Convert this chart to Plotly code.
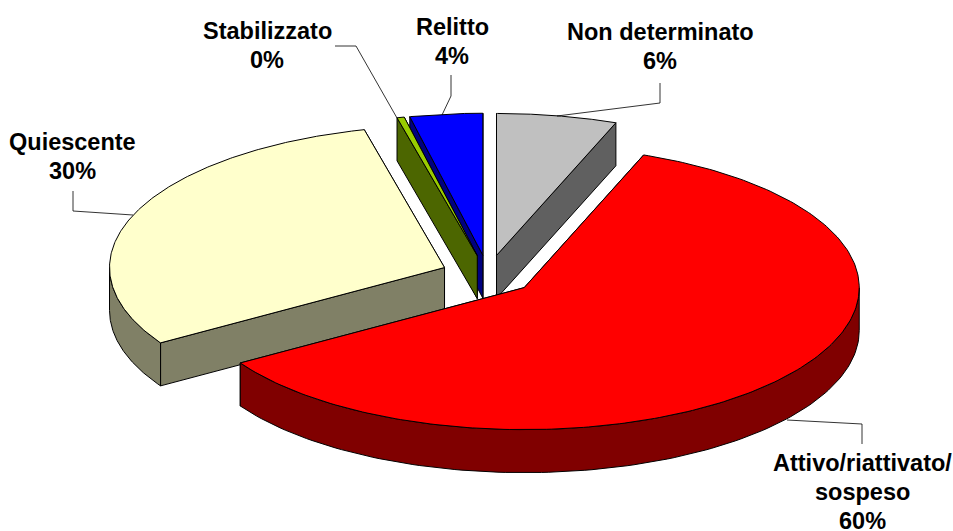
import numpy as np
import plotly.graph_objects as go

# data
categories = ["Non determinato", "Attivo/riattivato/<br>sospeso", "Quiescente", "Stabilizzato", "Relitto"]
values = [5.8, 60.3, 30.05, 0.35, 3.5]
percent_labels = ["6%", "60%", "30%", "0%", "4%"]
top_colors = ["#C0C0C0", "#FF0000", "#FFFFCC", "#99CC00", "#0000FF"]
side_colors = ["#606060", "#800000", "#808066", "#4C6600", "#000080"]

# projection of the tilted pie, in pixels
CX, CY = 488, 275
A, B = 335, 142
DEPTH = 43
EXPLODE = 0.14
LINE = dict(color="black", width=1)

fig = go.Figure()


def poly(xs, ys, color):
    fig.add_trace(go.Scatter(
        x=np.r_[xs, xs[0]], y=np.r_[ys, ys[0]], mode="lines", fill="toself",
        fillcolor=color, line=LINE, hoverinfo="skip", showlegend=False))


def rim(cx, cy, deg):
    t = np.radians(deg)
    return cx + A * np.sin(t), cy - B * np.cos(t)


total = sum(values)
edges = np.r_[0, np.cumsum(values)] / total * 360
slices = []
for i in range(len(values)):
    a0, a1 = edges[i], edges[i + 1]
    mid = np.radians((a0 + a1) / 2)
    cx = CX + EXPLODE * A * np.sin(mid)
    cy = CY - EXPLODE * B * np.cos(mid)
    slices.append((i, a0, a1, cx, cy))

# painter's order: back slices first, the big front slice last
for i, a0, a1, cx, cy in [slices[k] for k in (0, 4, 3, 2, 1)]:
    # radial cut faces
    for ang in (a1, a0):
        rx, ry = rim(cx, cy, ang)
        poly(np.array([cx, rx, rx, cx]), np.array([cy, ry, ry + DEPTH, cy + DEPTH]), side_colors[i])
    # outer wall, only the part that faces the viewer
    w0, w1 = max(a0, 90), min(a1, 270)
    if w1 > w0:
        deg = np.linspace(w0, w1, 120)
        rx, ry = rim(cx, cy, deg)
        poly(np.r_[rx, rx[::-1]], np.r_[ry, ry[::-1] + DEPTH], side_colors[i])
    # top face
    deg = np.linspace(a0, a1, 240)
    rx, ry = rim(cx, cy, deg)
    poly(np.r_[cx, rx], np.r_[cy, ry], top_colors[i])

# leader lines
leaders = [
    ([557, 660, 660], [116, 103, 83]),
    ([787, 862, 862], [420, 424, 444]),
    ([133, 73, 73], [215, 211, 191]),
    ([397, 356, 335], [118, 46, 46]),
    ([442, 451, 451], [115, 96, 75]),
]
for lx, ly in leaders:
    fig.add_trace(go.Scatter(x=lx, y=ly, mode="lines", line=dict(color="black", width=0.8),
                             hoverinfo="skip", showlegend=False))

# labels: centre of the first line, one annotation per line
label_pos = [(660, 32), (862, 463), (72, 142), (267, 31), (452, 27)]
LINE_STEP = 29
for (lx, ly), c, p in zip(label_pos, categories, percent_labels):
    for k, txt in enumerate(c.split("<br>") + [p]):
        fig.add_annotation(x=lx, y=ly + k * LINE_STEP, text=txt, showarrow=False,
                           xanchor="center", yanchor="middle", align="center",
                           font=dict(family="Liberation Sans", size=23.5, color="black", weight="bold"))

fig.update_layout(
    width=953, height=531, margin=dict(l=0, r=0, t=0, b=0),
    paper_bgcolor="white", plot_bgcolor="white", showlegend=False,
    xaxis=dict(range=[0, 953], visible=False, fixedrange=True),
    yaxis=dict(range=[531, 0], visible=False, fixedrange=True),
)
fig.write_html("out.html", config=dict(displayModeBar=False),
               post_script="document.body.style.margin='0';document.body.style.overflow='hidden';")
